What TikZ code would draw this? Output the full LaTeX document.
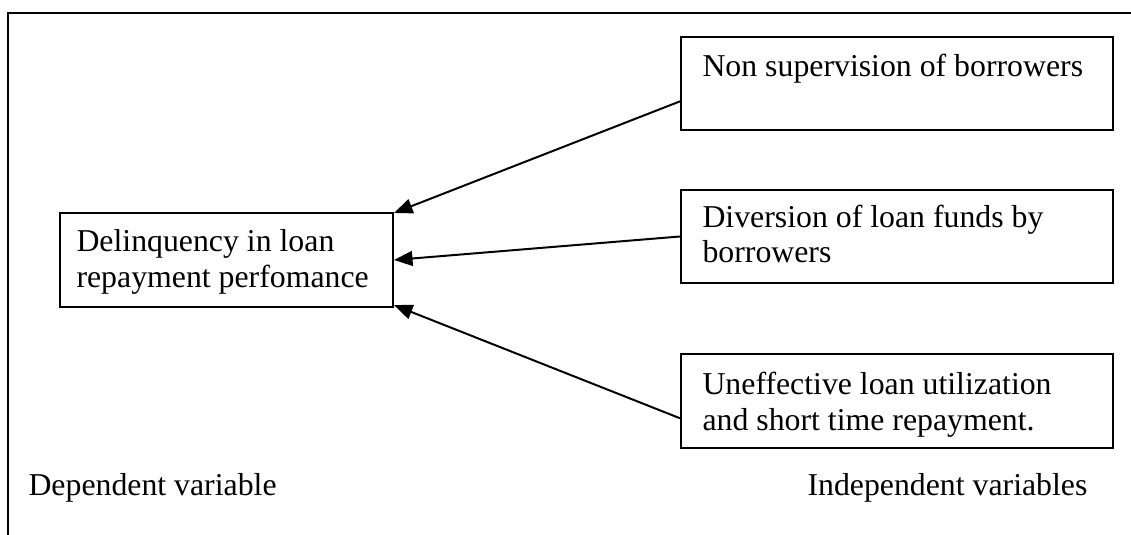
\documentclass[tikz,border=0pt]{standalone}
\usepackage{fontspec}
\setmainfont{Liberation Serif}
\usetikzlibrary{arrows.meta,calc}
\begin{document}
\begin{tikzpicture}[x=0.3774pt,y=-0.3774pt,
  box/.style={draw,line width=0.75pt,rectangle,inner sep=0pt,anchor=north west},
  txt/.style={inner sep=0pt,anchor=base west,align=left,font=\fontsize{12pt}{13.6pt}\selectfont},
  frameline/.style={line width=0.75pt},
  conn/.style={line width=0.75pt,-{Triangle[length=7pt,width=5.6pt]}}]
\useasboundingbox (0,0) rectangle (1131,535);
% outer frame
\coordinate (f1) at (1131,13);
\coordinate (f2) at (8,13);
\coordinate (f3) at (8,535);
\draw[frameline] (f1) -- (f2) -- (f3);
% boxes
\node[box,minimum width=333*0.3774pt,minimum height=94*0.3774pt] (d) at (59,212) {};
\node[box,minimum width=432*0.3774pt,minimum height=93*0.3774pt] (b1) at (680,36) {};
\node[box,minimum width=432*0.3774pt,minimum height=93*0.3774pt] (b2) at (680,189) {};
\node[box,minimum width=432*0.3774pt,minimum height=94*0.3774pt] (b3) at (680,353) {};
% texts
\node[txt] (td1) at (76,252) {Delinquency in loan};
\node[txt] (td2) at (76,288) {repayment perfomance};
\node[txt] (t1) at (702,77) {Non supervision of borrowers};
\node[txt] (t21) at (702,228) {Diversion of loan funds by};
\node[txt] (t22) at (702,263) {borrowers};
\node[txt] (t31) at (702,395) {Uneffective loan utilization};
\node[txt] (t32) at (702,430) {and short time repayment.};
\node[txt] (dep) at (28,495) {Dependent variable};
\node[txt] (ind) at (807,495) {Independent variables};
% connectors
\draw[conn] ($(b1.north west)!0.688!(b1.south west)$) -- ($(d.north east)!0.01!(d.south east)$);
\draw[conn] (b2.west) -- (d.east);
\draw[conn] ($(b3.north west)!0.68!(b3.south west)$) -- ($(d.north east)!0.97!(d.south east)$);
\end{tikzpicture}
\end{document}
